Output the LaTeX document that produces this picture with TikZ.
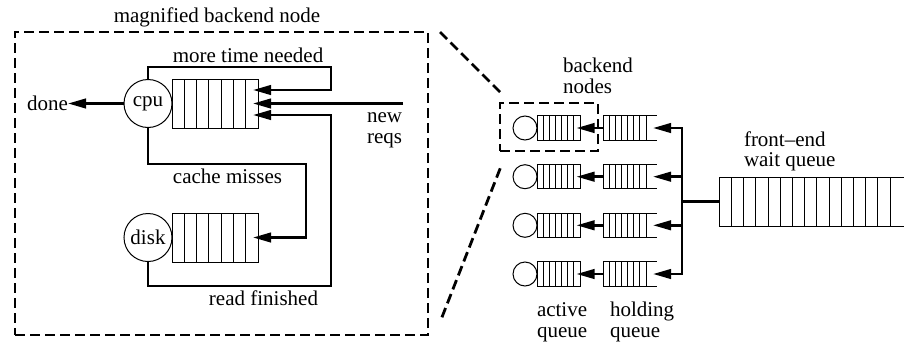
\documentclass[tikz,border=0pt]{standalone}
\usepackage{fontspec}
\setmainfont{Liberation Serif}
\usetikzlibrary{arrows.meta,positioning}

\newcommand{\figfont}{\fontsize{21pt}{20.5pt}\selectfont}

\begin{document}
\begin{tikzpicture}[
    x=1pt, y=-1pt,
    qline/.style={line width=1pt},
    fifo/.style n args={3}{
      draw,
      qline,
      minimum width=#1,
      minimum height=#2,
      inner sep=0pt,
      outer sep=0pt,
      path picture={
        \foreach \k in {1,...,#3}
          \draw[qline] ([xshift={\k*#1/(#3+1)}]path picture bounding box.south west)
                    -- ([xshift={\k*#1/(#3+1)}]path picture bounding box.north west);
      }
    },
    unit/.style={
      draw,
      circle,
      qline,
      minimum size=#1,
      inner sep=0pt,
      outer sep=0pt,
      font=\figfont
    },
    flow/.style={
      -{Triangle[length=18pt,width=9.5pt]},
      line width=2.6pt
    },
    link/.style={line width=2.6pt},
    zoombox/.style={
      draw,
      line width=2.8pt,
      dash pattern=on 10pt off 5pt,
      inner sep=0pt,
      outer sep=0pt
    },
    zoomline/.style={line width=2.8pt, dash pattern=on 10pt off 5pt},
    txt/.style={font=\figfont, inner sep=0pt, outer sep=0pt, align=left}
  ]
  \useasboundingbox (0,0) rectangle (904,343);

  % Magnified backend node
  \node[zoombox, minimum width=413pt, minimum height=303pt] (mag) at (221.5,183.5) {};
  \node[txt, anchor=base] (magtxt) at (217,22.5) {magnified backend node};

  \node[unit=48pt] (cpu)  at (148,103.5) {cpu};
  \node[fifo={86pt}{49pt}{6}] (cpuq) at (215,103.5) {};
  \node[unit=48pt] (disk) at (148,237.5) {disk};
  \node[fifo={86pt}{49pt}{6}] (diskq) at (215,237.5) {};

  \node[txt, anchor=east] (done) at (68,103.5) {done};
  \draw[flow] (cpu.west) -- (done.east);

  % Loops back into the cpu queue
  \draw[flow] (cpu.north) |- (331,67) |- ([xshift=-5pt,yshift=13.5pt]cpuq.east);
  \coordinate (reqs) at (403,103.5);
  \draw[flow] (reqs) -- ([xshift=-5pt]cpuq.east);
  \draw[flow] (cpu.south) |- (306,164) |- ([xshift=-5pt]diskq.east);
  \draw[flow] (disk.south) |- (331,286) |- ([xshift=-5pt,yshift=-11.5pt]cpuq.east);

  \node[txt, anchor=base] (moretxt) at (248,62.7) {more time needed};
  \node[txt, anchor=base, align=center] (reqtxt) at (384.5,143.4) {new\\reqs};
  \node[txt, anchor=base] (misstxt) at (227.5,183.3) {cache misses};
  \node[txt, anchor=base] (readtxt) at (263.5,305) {read finished};

  % Backend nodes
  \foreach \r/\y in {1/128,2/176.7,3/225.3,4/274}{
    \node[unit=24pt] (s\r) at (525,\y) {};
    \node[fifo={43pt}{24.5pt}{6}] (a\r) at (558.5,\y) {};
    \node[fifo={43pt}{24.5pt}{6}] (h\r) at (624.5,\y) {};
    \draw[qline] (h\r.north east) -- ++(11,0) (h\r.south east) -- ++(11,0);
    \coordinate (b\r) at (682,\y);
    \draw[flow] (h\r.west) -- ([xshift=-3.5pt]a\r.east);
  }
  \draw[flow] (b4) -- (b1) -- ([xshift=7pt]h1.east);
  \draw[flow] (b1) -- (b4) -- ([xshift=7pt]h4.east);
  \draw[flow] (b2) -- ([xshift=7pt]h2.east);
  \draw[flow] (b3) -- ([xshift=7pt]h3.east);

  \node[zoombox, minimum width=98pt, minimum height=48pt] (sel) at (549,127) {};
  \node[txt, anchor=base west] (betxt) at (563,93.3) {backend\\nodes};
  \node[txt, anchor=base west] (acttxt) at (537,337) {active\\queue};
  \node[txt, anchor=base west] (holdtxt) at (610,337) {holding\\queue};

  % Zoom lines
  \draw[zoomline, shorten >=15.5pt] ([xshift=12pt]mag.north east) -- ([xshift=11pt]sel.north west);
  \draw[zoomline, shorten <=19pt, shorten >=15pt] ([xshift=7pt]mag.south east) -- ([xshift=7pt]sel.south west);

  % Front-end wait queue
  \node[fifo={170.8pt}{49pt}{13}] (front) at (804.7,201.5) {};
  \draw[qline] (front.north east) -- ++(16,0) (front.south east) -- ++(16,0);
  \coordinate (fork) at (682,201.5);
  \draw[link] (fork) -- (front.west);
  \node[txt, anchor=base west] (fetxt) at (744,166.5) {front--end\\wait queue};

\end{tikzpicture}
\end{document}
